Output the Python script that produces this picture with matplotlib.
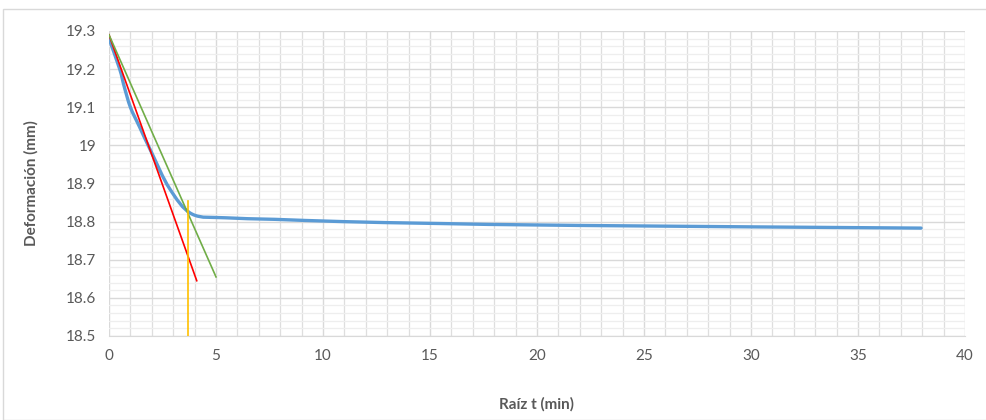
import matplotlib
matplotlib.use("Agg")
import matplotlib.pyplot as plt
import numpy as np
from matplotlib.patches import Rectangle, PathPatch
from matplotlib.path import Path
from matplotlib.ticker import MultipleLocator

# lectura del ensayo: raíz del tiempo (min) vs deformación (mm)
raiz_t = [0, 0.5, 0.707, 1.0, 1.414, 2.0, 2.828, 3.873, 5.477, 7.746,
          10.954, 15.492, 21.909, 37.947]
deformacion = [19.28, 19.20, 19.155, 19.10, 19.05, 18.98, 18.887, 18.82,
               18.81, 18.806, 18.80, 18.795, 18.79, 18.783]

# tangentes de Taylor
recta_ini_x = [0, 4.1]
recta_ini_y = [19.29, 18.645]
recta_115_x = [0, 5.0]
recta_115_y = [19.29, 18.655]
# lectura de raíz t90
t90_x = [3.7, 3.7]
t90_y = [18.5, 18.855]

GRIS = "#595959"
plt.rcParams["font.family"] = ["Lato", "DejaVu Sans"]


def linea_suavizada(xs, ys):
    """Curva Bézier por los puntos (suavizado tipo hoja de cálculo)."""
    p = np.column_stack([xs, ys]).astype(float)
    n = len(p)
    verts, cods = [tuple(p[0])], [Path.MOVETO]
    for i in range(n - 1):
        p0 = p[i - 1] if i > 0 else p[i]
        p3 = p[i + 2] if i + 2 < n else p[i + 1]
        c1 = p[i] + (p[i + 1] - p0) / 6
        c2 = p[i + 1] - (p3 - p[i]) / 6
        verts += [tuple(c1), tuple(c2), tuple(p[i + 1])]
        cods += [Path.CURVE4] * 3
    return Path(verts, cods)


fig = plt.figure(figsize=(9.87, 4.2), dpi=100)
fig.patches.append(Rectangle((3.5 / 987, 0), 1, 1 - 9 / 420, transform=fig.transFigure,
                             fill=False, edgecolor="#D9D9D9", linewidth=1.0))
ax = fig.add_axes([109 / 987, 1 - 336 / 420, (965 - 109) / 987, (336 - 31) / 420])

ax.add_patch(PathPatch(linea_suavizada(raiz_t, deformacion), facecolor="none",
                       edgecolor="#5B9BD5", linewidth=2.4, capstyle="round", zorder=3))
ax.plot(recta_ini_x, recta_ini_y, color="#FF0000", linewidth=1.2, zorder=4)
ax.plot(recta_115_x, recta_115_y, color="#70AD47", linewidth=1.2, zorder=4)
ax.plot(t90_x, t90_y, color="#FFC000", linewidth=1.2, zorder=4)

ax.set_xlim(0, 40)
ax.set_ylim(18.5, 19.3)
ax.xaxis.set_major_locator(MultipleLocator(5))
ax.xaxis.set_minor_locator(MultipleLocator(1))
ax.yaxis.set_minor_locator(MultipleLocator(0.02))
ax.set_yticks([18.5, 18.6, 18.7, 18.8, 18.9, 19.0, 19.1, 19.2, 19.3])
ax.set_yticklabels(["18.5", "18.6", "18.7", "18.8", "18.9", "19", "19.1", "19.2", "19.3"])

ax.grid(True, which="major", color="#D9D9D9", linewidth=1.0)
ax.xaxis.grid(True, which="minor", color="#DEDEDE", linewidth=0.9)
ax.yaxis.grid(True, which="minor", color="#EEEEEE", linewidth=0.9)
ax.set_axisbelow(True)
for lado in ["top", "right", "left"]:
    ax.spines[lado].set_visible(False)
ax.spines["bottom"].set_color("#D9D9D9")
ax.tick_params(which="both", length=0, labelsize=11, colors=GRIS, pad=9)

ax.set_xlabel("Raíz t (min)", fontsize=11, fontweight="bold", color=GRIS, labelpad=25)
ax.set_ylabel("Deformación (mm)", fontsize=11, fontweight="bold", color=GRIS, labelpad=20)

fig.savefig("out.png", dpi=100, facecolor="white")
